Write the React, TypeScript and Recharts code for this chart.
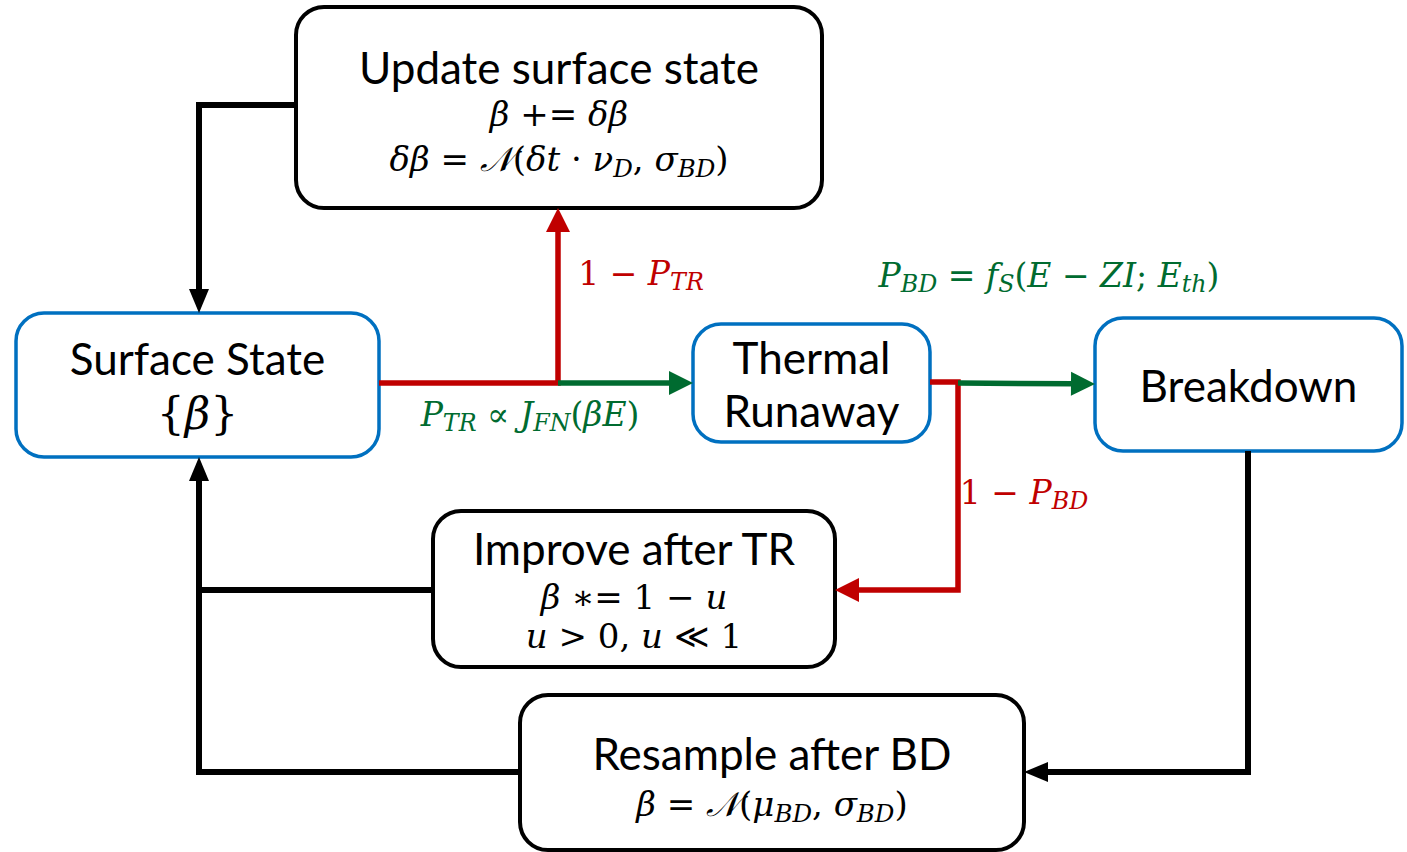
import React from 'react'
import { ScatterChart, Scatter, XAxis, YAxis, ReferenceArea } from 'recharts'

const W = 1407
const H = 852

// boxes, in picture coordinates (y runs down)
const boxX1 = [296, 16, 693, 1095, 433, 520]
const boxX2 = [822, 379, 930, 1402, 835, 1024]
const boxY1 = [7, 313, 324, 318, 511, 695]
const boxY2 = [208, 457, 442, 451, 667, 850]
const boxKind = ['step', 'state', 'state', 'state', 'step', 'step']
// lines starting with $ are set as math
const boxLines: string[][] = [
  ['Update surface state', '$β += δβ', '$δβ = 𝒩(δt · ν_{D}, σ_{BD})'],
  ['Surface State', '${β}'],
  ['Thermal', 'Runaway'],
  ['Breakdown'],
  ['Improve after TR', '$β ∗= 1 − u', '$u > 0, u ≪ 1'],
  ['Resample after BD', '$β = 𝒩(μ_{BD}, σ_{BD})'],
]
const boxLineDy: number[][] = [[-41, 6, 51], [-27, 28], [-26, 27], [0], [-41, 8, 47], [-20, 31]]

// connectors: polylines, arrow at the last point unless noted
const linkPoints: number[][][] = [
  [[296, 105], [199, 105], [199, 313]],
  [[379, 383], [558, 383], [558, 208]],
  [[558, 383], [693, 383]],
  [[930, 382], [958, 382], [958, 590], [835, 590]],
  [[958, 383], [1095, 384]],
  [[1248, 451], [1248, 772], [1024, 772]],
  [[520, 772], [199, 772], [199, 457]],
  [[433, 590], [199, 590]],
]
const linkKind = ['black', 'red', 'green', 'red', 'green', 'black', 'black', 'black']
const linkArrow = [true, true, true, true, true, true, true, false]

// edge labels
const labelText = ['$1 − P_{TR}', '$P_{BD} = f_{S}(E − ZI; E_{th})', '$P_{TR} ∝ J_{FN}(βE)', '$1 − P_{BD}']
const labelX = [641, 1049, 530, 1024]
const labelY = [273, 275, 414, 492]
const labelKind = ['red', 'green', 'green', 'red']

const COLORS: Record<string, string> = {
  black: '#000000',
  red: '#c00000',
  green: '#006b30',
  state: '#0070c0',
  step: '#000000',
}
const SANS = 'Lato, "Open Sans", sans-serif'
const SERIF = '"DejaVu Serif", "Liberation Serif", serif'
const ARROW = 22
const TITLE = 44
const MATH = 34

function mathSpans(src: string, size: number) {
  const out: React.ReactNode[] = []
  const re = /_\{([^}]*)\}|./gu
  let m: RegExpExecArray | null
  let k = 0
  const sub = size * 0.72
  const shift = size * 0.28
  let pending = 0
  while ((m = re.exec(src))) {
    if (m[1] !== undefined) {
      out.push(
        <tspan key={k++} dy={shift} fontSize={sub} fontStyle="italic">
          {m[1]}
        </tspan>
      )
      pending = -shift
    } else {
      const ch = m[0]
      const letter = /\p{L}/u.test(ch)
      out.push(
        <tspan key={k++} dy={pending || undefined} fontStyle={letter ? 'italic' : 'normal'}>
          {ch === ' ' ? '\u00a0' : ch}
        </tspan>
      )
      pending = 0
    }
  }
  return out
}

function TextLine({ x, y, text, size, mathSize, color }: any) {
  if (text.startsWith('$')) {
    return (
      <text x={x} y={y} textAnchor="middle" dominantBaseline="central" fontFamily={SERIF} fontSize={mathSize} fill={color}>
        {mathSpans(text.slice(1), mathSize)}
      </text>
    )
  }
  return (
    <text x={x} y={y} textAnchor="middle" dominantBaseline="central" fontFamily={SANS} fontSize={size} fill={color}>
      {text}
    </text>
  )
}

function boxShape(i: number) {
  return (p: any) => {
    const cx = p.x + p.width / 2
    const cy = p.y + p.height / 2
    return (
      <g>
        <rect
          x={p.x}
          y={p.y}
          width={p.width}
          height={p.height}
          rx={28}
          ry={28}
          fill="#fff"
          stroke={COLORS[boxKind[i]]}
          strokeWidth={boxKind[i] === 'state' ? 3.5 : 4}
        />
        {boxLines[i].map((t, j) => (
          <TextLine
            key={j}
            x={cx}
            y={cy + boxLineDy[i][j]}
            text={t}
            size={TITLE}
            mathSize={i === 1 ? 44 : MATH}
            color="#000"
          />
        ))}
      </g>
    )
  }
}

function trimmed(pts: number[][], arrow: boolean) {
  const out = pts.map(([x, y]) => ({ x, y }))
  if (!arrow) return out
  const a = out[out.length - 2]
  const b = out[out.length - 1]
  const len = Math.hypot(b.x - a.x, b.y - a.y)
  out[out.length - 1] = {
    x: b.x - ((b.x - a.x) / len) * ARROW,
    y: b.y - ((b.y - a.y) / len) * ARROW,
  }
  return out
}

const arrowData = linkPoints
  .map((pts, i) => {
    const a = pts[pts.length - 2]
    const b = pts[pts.length - 1]
    return { x: b[0], y: b[1], dx: b[0] - a[0], dy: b[1] - a[1], kind: linkKind[i], on: linkArrow[i] }
  })
  .filter((d) => d.on)

const labelData = labelText.map((t, i) => ({ x: labelX[i], y: labelY[i], text: t, kind: labelKind[i] }))

const ArrowHead = (p: any) => {
  const d = p.payload
  const ang = (Math.atan2(d.dy, d.dx) * 180) / Math.PI
  const half = d.kind === 'black' ? 10 : 12
  return (
    <path
      d={`M0,0 L${-ARROW - 2},${-half} L${-ARROW - 2},${half} Z`}
      fill={COLORS[d.kind]}
      transform={`translate(${p.cx},${p.cy}) rotate(${ang})`}
    />
  )
}

const EdgeLabel = (p: any) => {
  const d = p.payload
  return <TextLine x={p.cx} y={p.cy} text={d.text} size={TITLE} mathSize={33} color={COLORS[d.kind]} />
}

const Hidden = () => <g />

export default function App() {
  return (
    <div style={{ position: 'absolute', left: 0, top: 0, background: '#fff' }}>
      <ScatterChart width={W} height={H} margin={{ top: 0, right: 0, bottom: 0, left: 0 }}>
        <XAxis type="number" dataKey="x" domain={[0, W]} hide allowDataOverflow />
        <YAxis type="number" dataKey="y" domain={[0, H]} reversed hide allowDataOverflow />
        {linkPoints.map((pts, i) => (
          <Scatter
            key={'l' + i}
            data={trimmed(pts, linkArrow[i])}
            line={{ stroke: COLORS[linkKind[i]], strokeWidth: linkKind[i] === 'black' ? 6 : 5.5, strokeLinejoin: 'miter' }}
            shape={Hidden}
            isAnimationActive={false}
          />
        ))}
        <Scatter data={arrowData} shape={ArrowHead} isAnimationActive={false} />
        {boxX1.map((x1, i) => (
          <ReferenceArea
            key={'b' + i}
            x1={x1}
            x2={boxX2[i]}
            y1={boxY1[i]}
            y2={boxY2[i]}
            shape={boxShape(i)}
          />
        ))}
        <Scatter data={labelData} shape={EdgeLabel} isAnimationActive={false} />
      </ScatterChart>
    </div>
  )
}
